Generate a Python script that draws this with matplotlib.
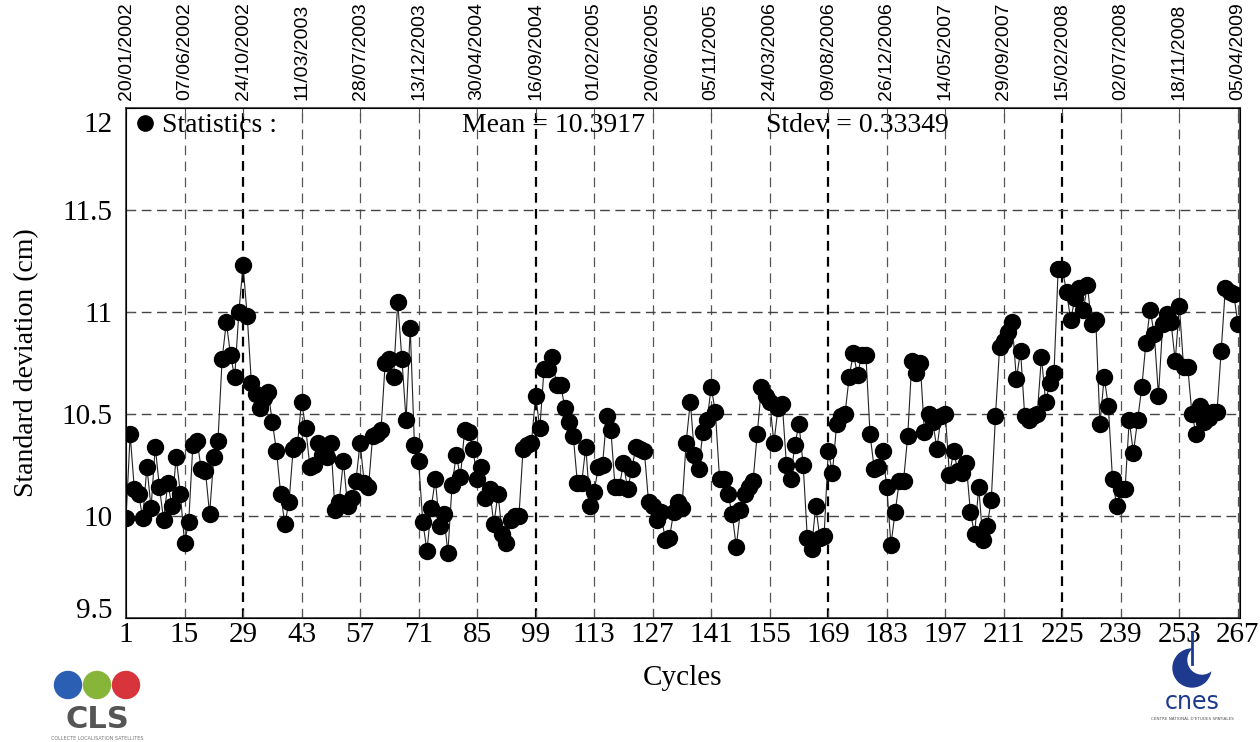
import matplotlib
matplotlib.use('Agg')
import matplotlib.pyplot as plt
import matplotlib.transforms as mtransforms
import numpy as np
from matplotlib.patches import Ellipse

plt.rcParams['lines.scale_dashes'] = False

# std deviation per cycle (cm), cycles 1..267
stdev = [
    9.99, 10.40, 10.13, 10.11, 9.99, 10.24, 10.04, 10.34, 10.14, 9.98,
    10.16, 10.05, 10.29, 10.11, 9.87, 9.97, 10.35, 10.37, 10.23, 10.22,
    10.01, 10.29, 10.37, 10.77, 10.95, 10.79, 10.68, 11.00, 11.23, 10.98,
    10.65, 10.60, 10.53, 10.58, 10.61, 10.46, 10.32, 10.11, 9.96, 10.07,
    10.33, 10.35, 10.56, 10.43, 10.24, 10.25, 10.36, 10.30, 10.29, 10.36,
    10.03, 10.07, 10.27, 10.05, 10.09, 10.17, 10.36, 10.16, 10.14, 10.39,
    10.40, 10.42, 10.75, 10.77, 10.68, 11.05, 10.77, 10.47, 10.92, 10.35,
    10.27, 9.97, 9.83, 10.04, 10.18, 9.95, 10.01, 9.82, 10.15, 10.30,
    10.19, 10.42, 10.41, 10.33, 10.18, 10.24, 10.09, 10.13, 9.96, 10.11,
    9.91, 9.87, 9.98, 10.00, 10.00, 10.33, 10.35, 10.36, 10.59, 10.43,
    10.72, 10.72, 10.78, 10.64, 10.64, 10.53, 10.46, 10.39, 10.16, 10.16,
    10.34, 10.05, 10.12, 10.24, 10.25, 10.49, 10.42, 10.14, 10.14, 10.26,
    10.13, 10.23, 10.34, 10.33, 10.32, 10.07, 10.05, 9.98, 10.02, 9.88,
    9.89, 10.02, 10.07, 10.04, 10.36, 10.56, 10.30, 10.23, 10.41, 10.47,
    10.63, 10.51, 10.18, 10.18, 10.11, 10.01, 9.85, 10.03, 10.11, 10.14,
    10.17, 10.40, 10.63, 10.59, 10.56, 10.36, 10.53, 10.55, 10.25, 10.18,
    10.35, 10.45, 10.25, 9.89, 9.84, 10.05, 9.89, 9.90, 10.32, 10.21,
    10.45, 10.49, 10.50, 10.68, 10.80, 10.69, 10.79, 10.79, 10.40, 10.23,
    10.24, 10.32, 10.14, 9.86, 10.02, 10.17, 10.17, 10.39, 10.76, 10.70,
    10.75, 10.41, 10.50, 10.46, 10.33, 10.49, 10.50, 10.20, 10.32, 10.22,
    10.21, 10.26, 10.02, 9.91, 10.14, 9.88, 9.95, 10.08, 10.49, 10.83,
    10.86, 10.90, 10.95, 10.67, 10.81, 10.49, 10.47, 10.49, 10.50, 10.78,
    10.56, 10.65, 10.70, 11.21, 11.21, 11.10, 10.96, 11.07, 11.12, 11.01,
    11.13, 10.94, 10.96, 10.45, 10.68, 10.54, 10.18, 10.05, 10.13, 10.13,
    10.47, 10.31, 10.47, 10.63, 10.85, 11.01, 10.89, 10.59, 10.94, 10.99,
    10.95, 10.76, 11.03, 10.73, 10.73, 10.50, 10.40, 10.54, 10.46, 10.48,
    10.51, 10.51, 10.81, 11.12, 11.10, 11.09, 10.94,
]
cycles = np.arange(1, len(stdev) + 1)

tick_cycles = list(range(1, 268, 14))
tick_dates = ['20/01/2002', '07/06/2002', '24/10/2002', '11/03/2003', '28/07/2003',
              '13/12/2003', '30/04/2004', '16/09/2004', '01/02/2005', '20/06/2005',
              '05/11/2005', '24/03/2006', '09/08/2006', '26/12/2006', '14/05/2007',
              '29/09/2007', '15/02/2008', '02/07/2008', '18/11/2008', '05/04/2009']
bold_cycles = [29, 99, 169, 225]
yticks = [9.5, 10, 10.5, 11, 11.5, 12]

mean_txt = 'Mean = 10.3917'
std_txt = 'Stdev = 0.33349'

SERIF = ['Liberation Serif', 'DejaVu Serif']
NARROW = ['Liberation Sans Narrow', 'Liberation Sans', 'DejaVu Sans']

W, H = 1260, 742
fig = plt.figure(figsize=(W / 100, H / 100), dpi=100)
fig.patch.set_facecolor('white')
ax = fig.add_axes([126 / W, 1 - 618 / H, (1240 - 126) / W, (618 - 108) / H])

# grid
for c in tick_cycles[1:]:
    if c in bold_cycles:
        ax.axvline(c, color='black', lw=1.6, linestyle=(0, (7, 4.5)), zorder=1)
    else:
        ax.axvline(c, color='#555555', lw=0.9, linestyle=(0, (7, 4.5)), zorder=1)
for v in [10, 10.5, 11, 11.5]:
    ax.axhline(v, color='#444444', lw=1.0, linestyle=(0, (7, 4)), zorder=1)

ax.plot(cycles, stdev, '-', color='#222222', lw=0.8, marker='o', ms=11.5,
        mfc='black', mec='black', zorder=3)

ax.set_xlim(1, 267.5)
ax.set_ylim(9.5, 12)
ax.set_xticks(tick_cycles)
ax.set_xticklabels([str(c) for c in tick_cycles], family=SERIF, fontsize=21)
ax.set_yticks(yticks)
ax.set_yticklabels(['9.5', '10', '10.5', '11', '11.5', '12'], family=SERIF, fontsize=21)
ax.tick_params(axis='x', direction='in', length=6, pad=3, color='#555555')
ax.tick_params(axis='y', direction='in', length=6, pad=10, color='#555555')
for s in ax.spines.values():
    s.set_color('#333333')
    s.set_linewidth(1.2)

# end labels of the y axis sit a little inside, as in the original
ylabs = ax.get_yticklabels()
ylabs[0].set_transform(ylabs[0].get_transform() +
                       mtransforms.ScaledTranslation(0, 10 / 100, fig.dpi_scale_trans))
ylabs[-1].set_transform(ylabs[-1].get_transform() +
                        mtransforms.ScaledTranslation(0, -14 / 100, fig.dpi_scale_trans))

ax.set_xlabel('Cycles', family=SERIF, fontsize=21, labelpad=12)
ax.set_ylabel('Standard deviation (cm)', family=SERIF, fontsize=20, labelpad=16)

ax2 = ax.twiny()
ax2.set_xlim(ax.get_xlim())
ax2.set_xticks(tick_cycles)
ax2.set_xticklabels(tick_dates, rotation=90, family=NARROW, fontsize=14)
ax2.tick_params(axis='x', direction='in', length=6, pad=6, color='#555555')

# statistics line
def axf(px, py):
    return (px - 126) / 1114, (618 - py) / 510

ax.plot(*axf(145, 123), 'o', ms=11, color='black', transform=ax.transAxes,
        clip_on=False, zorder=5)
ax.text(*axf(162, 125), 'Statistics :', family=SERIF, fontsize=20,
        ha='left', va='center', transform=ax.transAxes, zorder=5)
ax.text(*axf(462, 125), mean_txt, family=SERIF, fontsize=20,
        ha='left', va='center', transform=ax.transAxes, zorder=5)
ax.text(*axf(766, 125), std_txt, family=SERIF, fontsize=20,
        ha='left', va='center', transform=ax.transAxes, zorder=5)

# logos (rough)
def ff(px, py):
    return px / W, 1 - py / H

for cx, col in [(68, '#2b5fb3'), (97, '#86b53a'), (126, '#d8343c')]:
    fig.patches.append(Ellipse(ff(cx, 685), 27 / W, 27 / H, color=col,
                               transform=fig.transFigure))
fig.text(*ff(97, 719), 'CLS', fontsize=22, fontweight='bold', color='#555555',
         ha='center', va='center', family='DejaVu Sans')
fig.text(*ff(97, 738), 'COLLECTE LOCALISATION SATELLITES', fontsize=3.5,
         color='#777777', ha='center', va='center')

fig.patches.append(Ellipse(ff(1192, 668), 38 / W, 38 / H, color='#1d3a8f',
                           transform=fig.transFigure))
fig.patches.append(Ellipse(ff(1202, 660), 28 / W, 28 / H, color='white',
                           transform=fig.transFigure))
fig.lines.append(plt.Line2D([1192 / W, 1192 / W], [1 - 632 / H, 1 - 664 / H],
                            color='#1d3a8f', lw=2, transform=fig.transFigure))
fig.text(*ff(1192, 702), 'cnes', fontsize=17, color='#1d3a8f',
         ha='center', va='center', family='DejaVu Sans')
fig.text(*ff(1192, 719), 'CENTRE NATIONAL D\'ETUDES SPATIALES', fontsize=3,
         color='#555555', ha='center', va='center')

fig.savefig('out.png', dpi=100, facecolor='white')
